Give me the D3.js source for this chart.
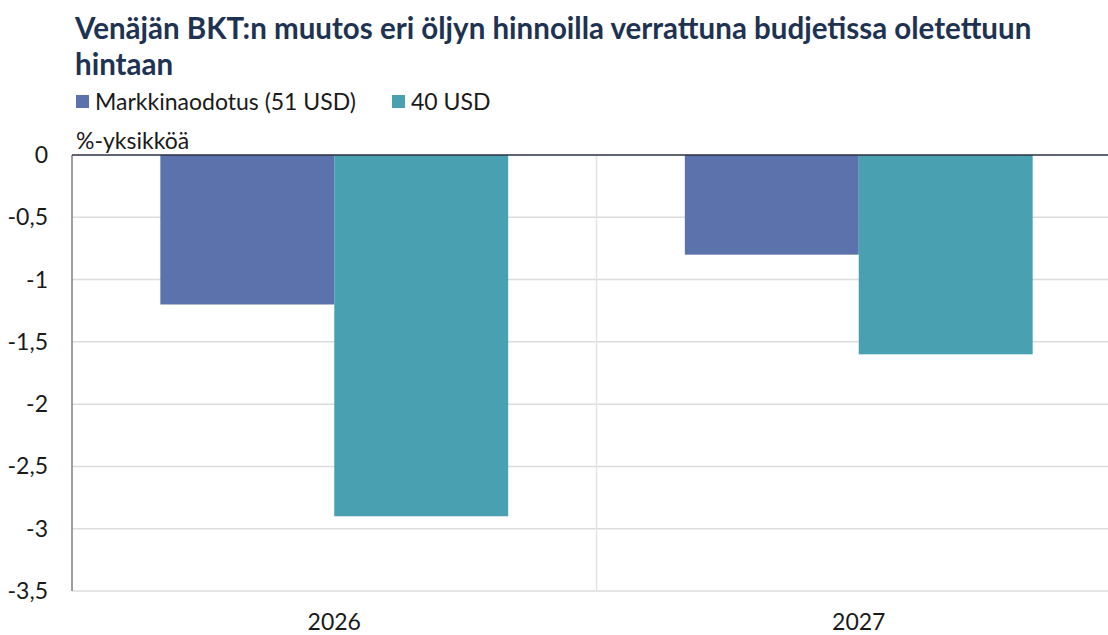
<!DOCTYPE html>
<html><head><meta charset="utf-8">
<script src="https://cdn.jsdelivr.net/npm/d3@7"></script>
<style>body{margin:0;background:#fff}svg{display:block}</style>
</head><body>
<svg id="c" width="1108" height="635"></svg>
<script>
const categories = ["2026", "2027"];
const seriesNames = ["Markkinaodotus (51 USD)", "40 USD"];
const seriesMarket = [-1.2, -0.8];
const series40 = [-2.9, -1.6];
const yTicks = [0, -0.5, -1, -1.5, -2, -2.5, -3, -3.5];
const colors = ["#5b72ad", "#48a0b0"];
const title = ["Venäjän BKT:n muutos eri öljyn hinnoilla verrattuna budjetissa oletettuun", "hintaan"];
const unitLabel = "%-yksikköä";

const FONT = "Lato, 'Open Sans', sans-serif";
const svg = d3.select("#c");
const m = {left: 72, top: 155, bottom: 591};
const plotW = 1049;

const x = d3.scaleBand().domain(categories).range([m.left, m.left + plotW]);
const xs = d3.scaleBand().domain(seriesNames).range([0, x.bandwidth()]).paddingOuter(0.508).paddingInner(0);
const y = d3.scaleLinear().domain([0, -3.5]).range([m.top, m.bottom]);

// gridlines
svg.append("g").selectAll("line").data(yTicks.filter(d => d !== 0)).join("line")
  .attr("x1", m.left).attr("x2", 1108).attr("y1", d => y(d)).attr("y2", d => y(d))
  .attr("stroke", "#dcdcdc").attr("stroke-width", 1.5);
// vertical separator
svg.append("line").attr("x1", x("2027")).attr("x2", x("2027")).attr("y1", m.top).attr("y2", m.bottom)
  .attr("stroke", "#e2e2ea").attr("stroke-width", 1.5);

const data = categories.map((c, i) => ({c, vals: [seriesMarket[i], series40[i]]}));
const g = svg.append("g");
data.forEach(d => {
  d.vals.forEach((v, j) => {
    g.append("rect")
      .attr("x", x(d.c) + xs(seriesNames[j]))
      .attr("width", xs.bandwidth())
      .attr("y", y(0))
      .attr("height", y(v) - y(0))
      .attr("fill", colors[j]);
  });
});

// left axis line
svg.append("line").attr("x1", m.left).attr("x2", m.left).attr("y1", m.top).attr("y2", m.bottom)
  .attr("stroke", "#7f7f7f").attr("stroke-width", 1.5);
// zero line
svg.append("line").attr("x1", m.left).attr("x2", 1108).attr("y1", y(0)).attr("y2", y(0))
  .attr("stroke", "#2b3140").attr("stroke-width", 1.5);

// y tick labels
const fmt = d => String(d).replace(".", ",");
svg.append("g").selectAll("text").data(yTicks).join("text")
  .attr("x", 48).attr("y", d => y(d)).attr("dy", "0.35em")
  .attr("text-anchor", "end").attr("font-family", FONT).attr("font-size", 23).attr("fill", "#1a1a1a")
  .text(fmt);

// x labels
svg.append("g").selectAll("text").data(categories).join("text")
  .attr("x", d => x(d) + x.bandwidth() / 2).attr("y", 630)
  .attr("text-anchor", "middle").attr("font-family", FONT).attr("font-size", 23).attr("fill", "#1a1a1a")
  .text(d => d);

// unit label
svg.append("text").attr("x", 76).attr("y", 149).attr("font-family", FONT).attr("font-size", 23)
  .attr("fill", "#1a1a1a").text(unitLabel);

// title
svg.append("g").selectAll("text").data(title).join("text")
  .attr("x", 75).attr("y", (d, i) => 39 + i * 36)
  .attr("font-family", FONT).attr("font-weight", "bold").attr("font-size", 29.5).attr("fill", "#1e3252")
  .text(d => d);

// legend
const legX = [76, 392];
const lg = svg.append("g");
seriesNames.forEach((n, i) => {
  lg.append("rect").attr("x", legX[i]).attr("y", 95).attr("width", 13).attr("height", 13).attr("fill", colors[i]);
  lg.append("text").attr("x", legX[i] + 19).attr("y", 110).attr("font-family", FONT).attr("font-size", 23)
    .attr("fill", "#1a1a1a").text(n);
});
</script>
</body></html>
